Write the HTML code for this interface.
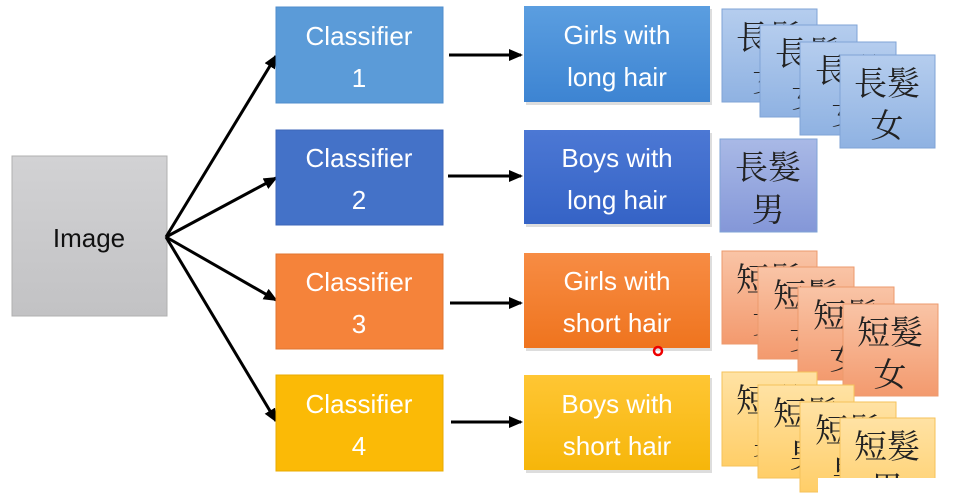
<!DOCTYPE html>
<html><head><meta charset="utf-8"><style>
html,body{margin:0;padding:0;background:#fff;width:964px;height:500px;overflow:hidden}
svg{display:block}
.t{font-family:"Liberation Sans","DejaVu Sans",sans-serif;font-size:26px;fill:#fff;text-anchor:middle}
.c{font-family:"Liberation Serif","Noto Serif CJK SC","Noto Sans CJK TC",serif;font-size:33px;fill:#222;stroke:none;text-anchor:middle}
</style></head><body>
<svg width="964" height="500" viewBox="0 0 964 500">
<defs>
<linearGradient id="gi" x1="0" y1="0" x2="0" y2="1"><stop offset="0" stop-color="#d2d2d4"/><stop offset="1" stop-color="#c2c2c4"/></linearGradient>
<linearGradient id="gb1" x1="0" y1="0" x2="0" y2="1"><stop offset="0" stop-color="#5b9ee0"/><stop offset="1" stop-color="#3d84d2"/></linearGradient>
<linearGradient id="gb2" x1="0" y1="0" x2="0" y2="1"><stop offset="0" stop-color="#4c78d4"/><stop offset="1" stop-color="#3563c6"/></linearGradient>
<linearGradient id="go" x1="0" y1="0" x2="0" y2="1"><stop offset="0" stop-color="#f78c44"/><stop offset="1" stop-color="#ef741e"/></linearGradient>
<linearGradient id="gy" x1="0" y1="0" x2="0" y2="1"><stop offset="0" stop-color="#ffc634"/><stop offset="1" stop-color="#f6b60a"/></linearGradient>
<linearGradient id="cb" x1="0" y1="0" x2="0" y2="1"><stop offset="0" stop-color="#b5cdee"/><stop offset="1" stop-color="#8fb2e2"/></linearGradient>
<linearGradient id="cb2" x1="0" y1="0" x2="0" y2="1"><stop offset="0" stop-color="#a9b9e6"/><stop offset="1" stop-color="#8497d8"/></linearGradient>
<linearGradient id="co" x1="0" y1="0" x2="0" y2="1"><stop offset="0" stop-color="#f9c4a6"/><stop offset="1" stop-color="#f39a6e"/></linearGradient>
<linearGradient id="cy" x1="0" y1="0" x2="0" y2="1"><stop offset="0" stop-color="#ffe2a4"/><stop offset="1" stop-color="#ffce68"/></linearGradient>
<marker id="ah" markerWidth="14" markerHeight="12" refX="12" refY="6" orient="auto" markerUnits="userSpaceOnUse"><path d="M0,0 L14,6 L0,12 Z" fill="#000"/></marker>
</defs>

<rect x="12" y="156" width="155" height="160" fill="url(#gi)" stroke="#b0b0b0"/>
<text x="89" y="247" class="t" style="fill:#111">Image</text>

<g stroke="#000" stroke-width="3" marker-end="url(#ah)">
<line x1="166" y1="237" x2="276" y2="56"/>
<line x1="166" y1="237" x2="276" y2="178"/>
<line x1="166" y1="237" x2="276" y2="300"/>
<line x1="166" y1="237" x2="276" y2="421"/>
<line x1="449" y1="55" x2="521" y2="55"/>
<line x1="448" y1="176" x2="521" y2="176"/>
<line x1="450" y1="303" x2="521" y2="303"/>
<line x1="451" y1="422" x2="521" y2="422"/>
</g>

<rect x="276" y="7" width="167" height="96" fill="#5b9bd8" stroke="#4f8ccc"/>
<text x="359" y="45" class="t">Classifier</text><text x="359" y="87" class="t">1</text>
<rect x="276" y="130" width="167" height="95" fill="#4472c8" stroke="#3c66b8"/>
<text x="359" y="167" class="t">Classifier</text><text x="359" y="209" class="t">2</text>
<rect x="276" y="254" width="167" height="95" fill="#f5833a" stroke="#e07430"/>
<text x="359" y="291" class="t">Classifier</text><text x="359" y="333" class="t">3</text>
<rect x="276" y="375" width="167" height="96" fill="#fbba06" stroke="#e8ab00"/>
<text x="359" y="413" class="t">Classifier</text><text x="359" y="455" class="t">4</text>

<g>
<rect x="526" y="9" width="186" height="96" fill="#bbb" opacity=".5"/>
<rect x="524" y="6" width="186" height="96" fill="url(#gb1)"/>
<text x="617" y="44" class="t">Girls with</text><text x="617" y="86" class="t">long hair</text>
<rect x="526" y="133" width="186" height="94" fill="#bbb" opacity=".5"/>
<rect x="524" y="130" width="186" height="94" fill="url(#gb2)"/>
<text x="617" y="167" class="t">Boys with</text><text x="617" y="209" class="t">long hair</text>
<rect x="526" y="256" width="186" height="95" fill="#bbb" opacity=".5"/>
<rect x="524" y="253" width="186" height="95" fill="url(#go)"/>
<text x="617" y="290" class="t">Girls with</text><text x="617" y="332" class="t">short hair</text>
<rect x="526" y="378" width="186" height="95" fill="#bbb" opacity=".5"/>
<rect x="524" y="375" width="186" height="95" fill="url(#gy)"/>
<text x="617" y="413" class="t">Boys with</text><text x="617" y="455" class="t">short hair</text>
</g>
<circle cx="658" cy="351" r="4" fill="none" stroke="#e00" stroke-width="2.5"/>

<g stroke="#7fa3d6" stroke-width="1">
<rect x="722" y="9" width="95" height="93" fill="url(#cb)"/>
<text x="769" y="49" class="c">長髮</text><text x="769" y="91" class="c">女</text>
<rect x="760" y="25" width="97" height="92" fill="url(#cb)"/>
<text x="808" y="65" class="c">長髮</text><text x="808" y="107" class="c">女</text>
<rect x="800" y="42" width="96" height="93" fill="url(#cb)"/>
<text x="848" y="82" class="c">長髮</text><text x="848" y="124" class="c">女</text>
<rect x="840" y="55" width="95" height="93" fill="url(#cb)"/>
<text x="887" y="95" class="c">長髮</text><text x="887" y="137" class="c">女</text>
<rect x="720" y="139" width="97" height="93" fill="url(#cb2)"/>
<text x="768" y="179" class="c">長髮</text><text x="768" y="221" class="c">男</text>
</g>
<g stroke="#ec9a6c">
<rect x="722" y="251" width="95" height="93" fill="url(#co)"/>
<text x="769" y="291" class="c">短髮</text><text x="769" y="333" class="c">女</text>
<rect x="758" y="267" width="96" height="92" fill="url(#co)"/>
<text x="806" y="307" class="c">短髮</text><text x="806" y="349" class="c">女</text>
<rect x="798" y="287" width="96" height="93" fill="url(#co)"/>
<text x="846" y="327" class="c">短髮</text><text x="846" y="369" class="c">女</text>
<rect x="843" y="304" width="95" height="92" fill="url(#co)"/>
<text x="890" y="344" class="c">短髮</text><text x="890" y="386" class="c">女</text>
</g>
<g stroke="#f5c25a">
<rect x="722" y="372" width="95" height="94" fill="url(#cy)"/>
<text x="769" y="412" class="c">短髮</text><text x="769" y="454" class="c">男</text>
<rect x="758" y="385" width="96" height="93" fill="url(#cy)"/>
<text x="806" y="425" class="c">短髮</text><text x="806" y="467" class="c">男</text>
<rect x="800" y="402" width="96" height="90" fill="url(#cy)"/>
<text x="848" y="442" class="c">短髮</text><text x="848" y="484" class="c">男</text>
<rect x="840" y="418" width="95" height="93" fill="url(#cy)"/>
<text x="887" y="458" class="c">短髮</text><text x="887" y="500" class="c">男</text>
</g>
<rect x="818" y="478" width="146" height="22" fill="#fff"/>
</svg>
</body></html>
